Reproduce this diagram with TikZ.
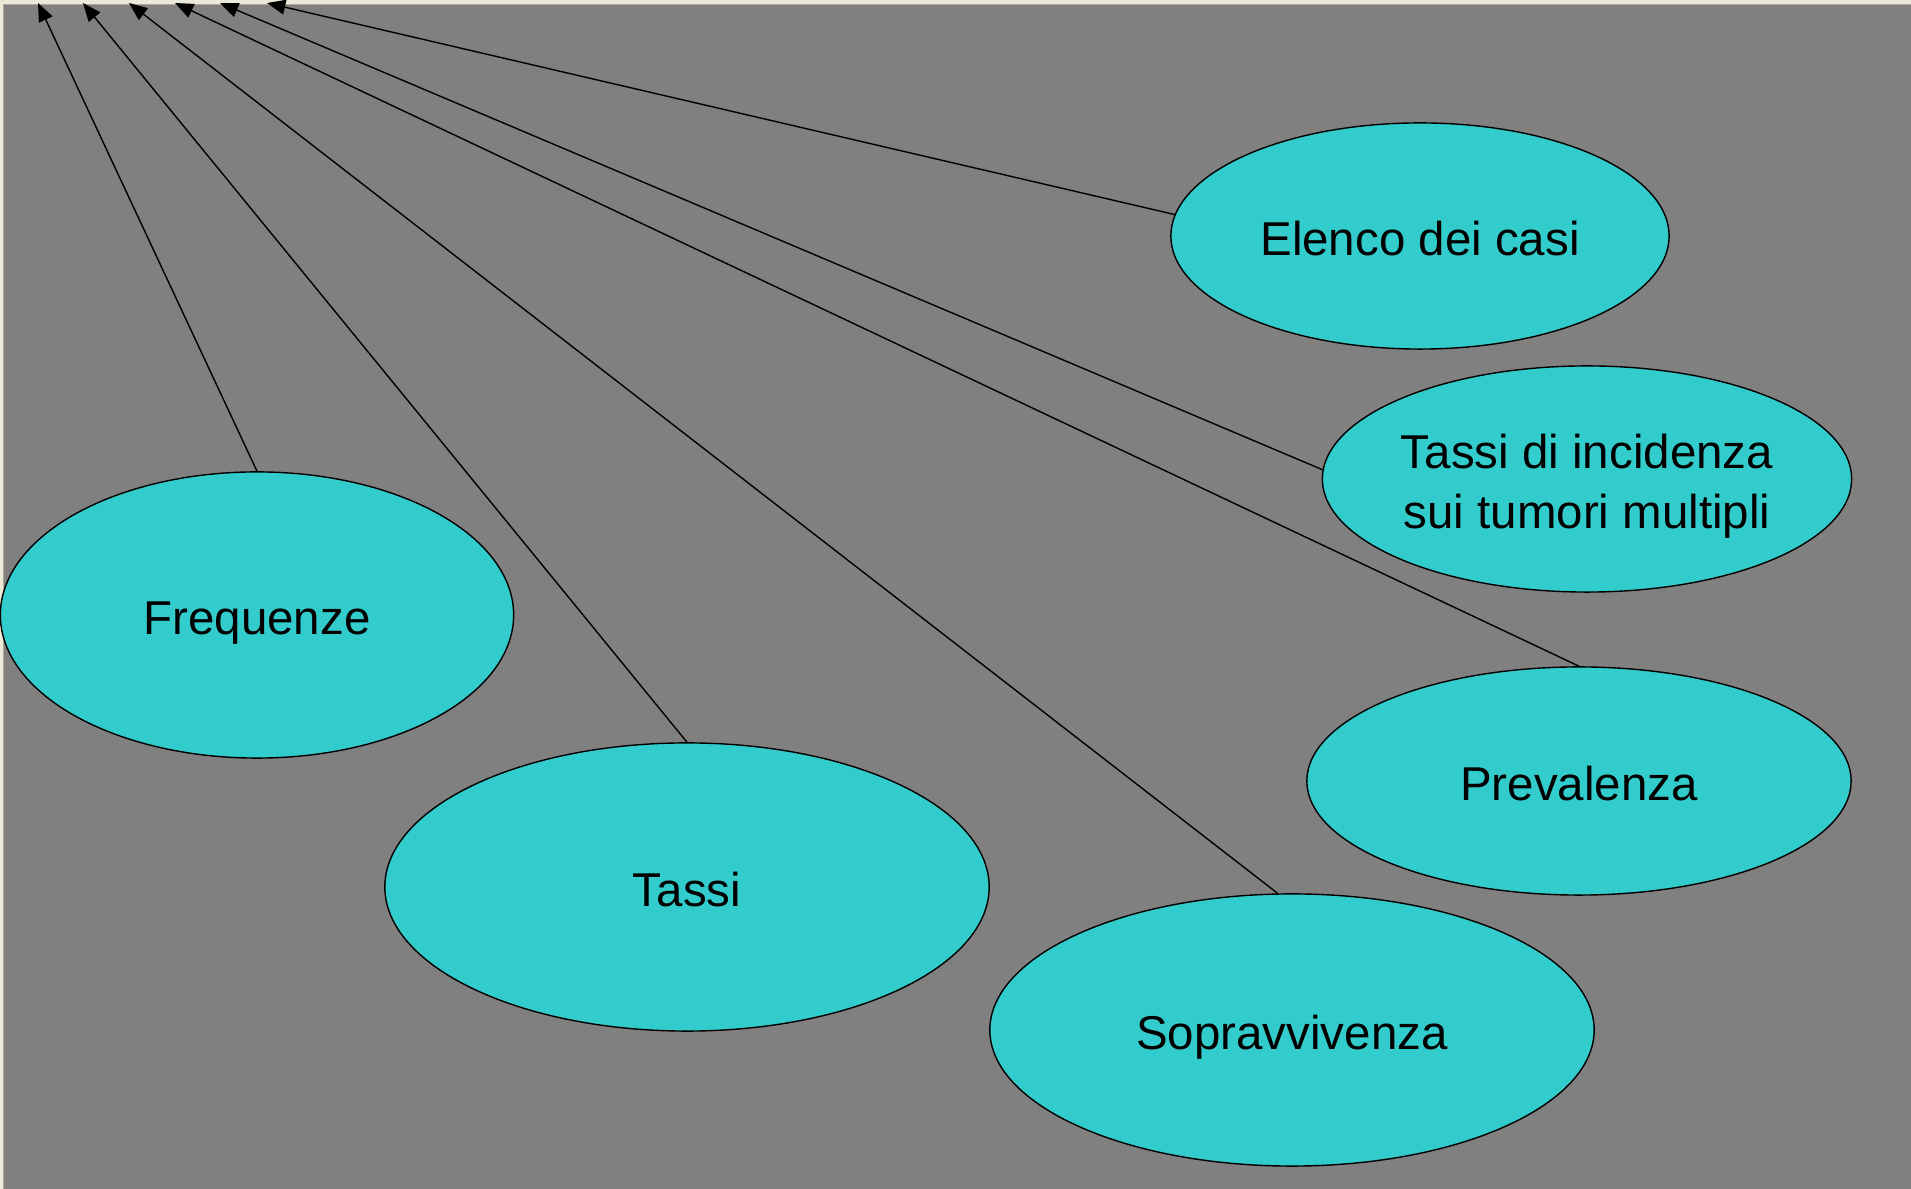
\documentclass[tikz,border=0pt]{standalone}
\usepackage{fontspec}
\setmainfont{Liberation Sans}
\usetikzlibrary{shapes,arrows.meta}
\definecolor{slidegray}{HTML}{808080}
\definecolor{bubblecyan}{HTML}{33CCCC}
\definecolor{framebeige}{HTML}{ECE9D8}
\definecolor{frameedge}{HTML}{ACA899}
\tikzstyle{bubble} = [ellipse, draw, fill=bubblecyan, inner sep=0pt,
    align=center, font=\fontsize{13.5}{17}\selectfont, text height=11.3pt, text depth=0pt]
\tikzstyle{line} = [draw, -{Triangle[length=5.2pt, width=4.2pt]}]

\begin{document}
\begin{tikzpicture}[x=0.01cm, y=-0.01cm]
	    % Background and window frame
	    \fill [slidegray] (0,0) rectangle (1911,1189);
	    \useasboundingbox (0,0) rectangle (1911,1189);
	    \fill [framebeige] (0,0) rectangle (1911,4);
	    \fill [frameedge] (0,4) rectangle (1911,5.5);
	    \fill [framebeige] (0,0) rectangle (3,1189);
	    \fill [frameedge] (3,5.5) rectangle (4.2,1189);
	    % Place nodes
	    \node [bubble, minimum width=4.98cm, minimum height=2.26cm] (elenco) at (1420,236) {Elenco dei casi};
	    \node [bubble, minimum width=5.29cm, minimum height=2.26cm, text height=28pt] (incidenza) at (1587,479) {Tassi di incidenza\\sui tumori multipli};
	    \node [bubble, minimum width=5.13cm, minimum height=2.86cm] (frequenze) at (257,615) {Frequenze};
	    \node [bubble, minimum width=6.04cm, minimum height=2.88cm] (tassi) at (687,887) {Tassi};
	    \node [bubble, minimum width=5.44cm, minimum height=2.28cm] (prevalenza) at (1579,781) {Prevalenza};
	    \node [bubble, minimum width=6.04cm, minimum height=2.72cm] (sopravvivenza) at (1292,1030) {Sopravvivenza};
	    % Arrow tips at the top edge
	    \coordinate (tipfrequenze) at (38,3);
	    \coordinate (tiptassi) at (83,3);
	    \coordinate (tipsopravvivenza) at (129,3);
	    \coordinate (tipprevalenza) at (175,3);
	    \coordinate (tipincidenza) at (220,3);
	    \coordinate (tipelenco) at (267,3);
	    % Draw edges
	    \path [line] (frequenze.north) -- (tipfrequenze);
	    \path [line] (tassi.north) -- (tiptassi);
	    \path [line] (sopravvivenza.96) -- (tipsopravvivenza);
	    \path [line] (prevalenza.north) -- (tipprevalenza);
	    \path [line] (incidenza.178) -- (tipincidenza);
	    \path [line] (elenco.175) -- (tipelenco);
\end{tikzpicture}
\end{document}
